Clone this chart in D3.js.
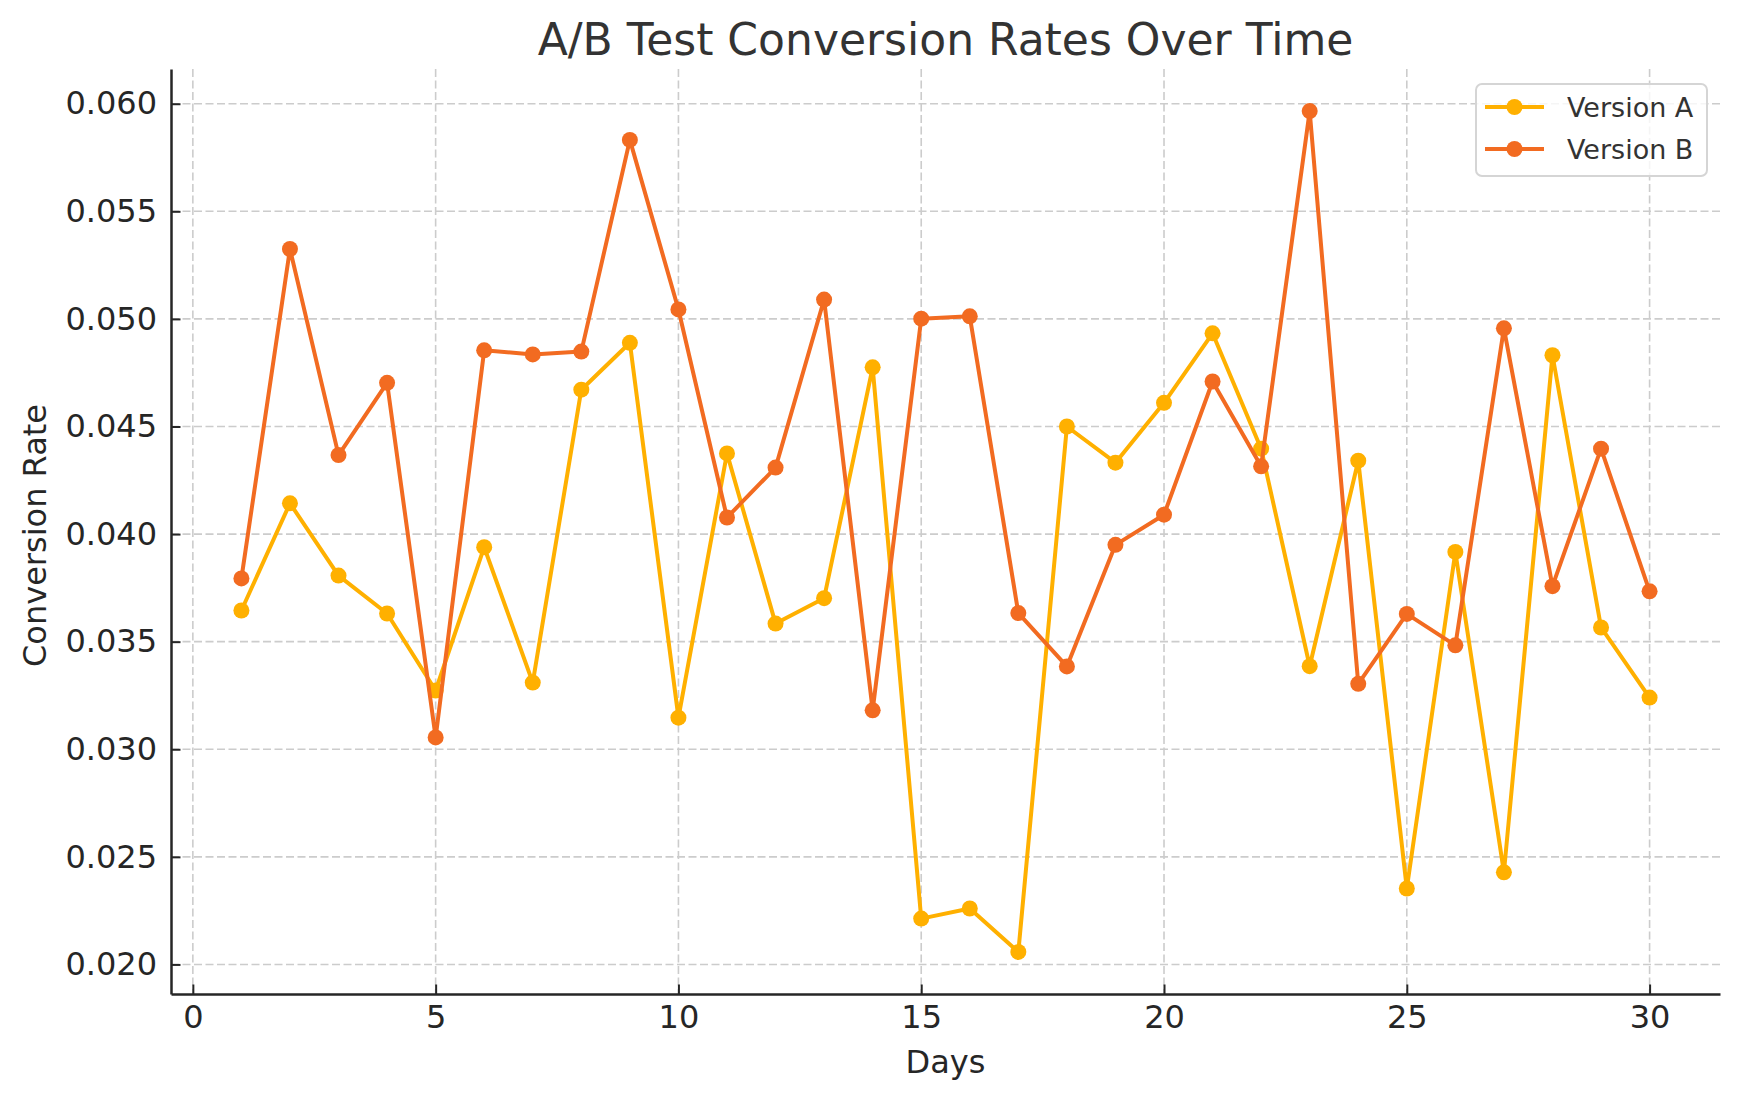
<!DOCTYPE html>
<html>
<head>
<meta charset="utf-8">
<script src="https://cdn.jsdelivr.net/npm/d3@7"></script>
<style>
  html, body { margin: 0; padding: 0; background: #fff; }
  text { font-family: "DejaVu Sans", sans-serif; }
</style>
</head>
<body>
<div id="chart-area"></div>
<script>
const days = d3.range(1, 31);

const versionA = [
    0.03645, 0.04143, 0.03807, 0.03631, 0.03273, 0.03939, 0.03310, 0.04671, 0.04889, 0.03147,
    0.04375, 0.03584, 0.03702, 0.04775, 0.02213, 0.02260, 0.02058, 0.04500, 0.04332, 0.04610,
    0.04933, 0.04397, 0.03386, 0.04341, 0.02353, 0.03917, 0.02428, 0.04831, 0.03566, 0.03240
];

const versionB = [
    0.03794, 0.05325, 0.04367, 0.04703, 0.03055, 0.04854, 0.04835, 0.04848, 0.05832, 0.05044,
    0.04077, 0.04309, 0.05090, 0.03181, 0.05001, 0.05012, 0.03633, 0.03385, 0.03950, 0.04090,
    0.04709, 0.04315, 0.05966, 0.03304, 0.03629, 0.03483, 0.04956, 0.03758, 0.04397, 0.03734
];

const seriesNames = ["Version A", "Version B"];
const seriesColors = ["#FFB000", "#F26B21"];
const xTicks = [0, 5, 10, 15, 20, 25, 30];
const yTicks = [0.020, 0.025, 0.030, 0.035, 0.040, 0.045, 0.050, 0.055, 0.060];

const WIDTH = 1739;
const HEIGHT = 1101;
const MARGINS = { top: 69, right: 19, bottom: 107, left: 171 };
const CHART_WIDTH = WIDTH - MARGINS.left - MARGINS.right;
const CHART_HEIGHT = HEIGHT - MARGINS.top - MARGINS.bottom;

const svg = d3.select('#chart-area')
    .append('svg')
    .attr('width', WIDTH)
    .attr('height', HEIGHT)
    .style('display', 'block')
    .style('background', '#fff');

const g = svg.append('g')
    .attr('transform', `translate(${MARGINS.left}, ${MARGINS.top})`);

// matplotlib-like 5% margins around the data
const allValues = versionA.concat(versionB);
const yMin = d3.min(allValues), yMax = d3.max(allValues);
const yPad = (yMax - yMin) * 0.05;
const xPad = (d3.max(days) - d3.min(days)) * 0.05;

const xScale = d3.scaleLinear()
    .domain([d3.min(days) - xPad, d3.max(days) + xPad])
    .range([0, CHART_WIDTH]);

const yScale = d3.scaleLinear()
    .domain([yMin - yPad, yMax + yPad])
    .range([CHART_HEIGHT, 0]);

// grid
const grid = g.append('g').attr('class', 'grid');
grid.selectAll('line.vgrid')
    .data(xTicks)
    .enter().append('line')
    .attr('x1', d => xScale(d)).attr('x2', d => xScale(d))
    .attr('y1', 0).attr('y2', CHART_HEIGHT);
grid.selectAll('line.hgrid')
    .data(yTicks)
    .enter().append('line')
    .attr('x1', 0).attr('x2', CHART_WIDTH)
    .attr('y1', d => yScale(d)).attr('y2', d => yScale(d));
grid.selectAll('line')
    .attr('stroke', '#cccccc')
    .attr('stroke-width', 1.6)
    .attr('stroke-dasharray', '8,3.5');

// axes, ticks pointing inward
const xAxisCall = d3.axisBottom(xScale).tickValues(xTicks).tickSize(-9.5).tickSizeOuter(0).tickPadding(11);
const yAxisCall = d3.axisLeft(yScale).tickValues(yTicks).tickSize(-9.5).tickSizeOuter(0).tickPadding(14)
    .tickFormat(d3.format('.3f'));

const xAxisGroup = g.append('g').attr('class', 'x axis')
    .attr('transform', `translate(0, ${CHART_HEIGHT})`)
    .call(xAxisCall);
const yAxisGroup = g.append('g').attr('class', 'y axis')
    .call(yAxisCall);

[xAxisGroup, yAxisGroup].forEach(ax => {
    ax.select('.domain').attr('stroke', '#262626').attr('stroke-width', 2.5);
    ax.selectAll('.tick line').attr('stroke', '#262626').attr('stroke-width', 2);
    ax.selectAll('.tick text')
        .attr('fill', '#262626')
        .style('font-size', '32px')
        .style('font-family', '"DejaVu Sans", sans-serif');
});

// lines and markers
const series = [versionA, versionB];
const line = d3.line()
    .x((d, i) => xScale(days[i]))
    .y(d => yScale(d));

series.forEach((values, s) => {
    g.append('path')
        .datum(values)
        .attr('fill', 'none')
        .attr('stroke', seriesColors[s])
        .attr('stroke-width', 4)
        .attr('stroke-linejoin', 'round')
        .attr('d', line);

    g.selectAll(`circle.s${s}`)
        .data(values)
        .enter().append('circle')
        .attr('class', `s${s}`)
        .attr('cx', (d, i) => xScale(days[i]))
        .attr('cy', d => yScale(d))
        .attr('r', 8)
        .attr('fill', seriesColors[s]);
});

// title
svg.append('text')
    .attr('x', MARGINS.left + CHART_WIDTH / 2)
    .attr('y', 55)
    .attr('text-anchor', 'middle')
    .attr('fill', '#333333')
    .style('font-size', '44px')
    .text('A/B Test Conversion Rates Over Time');

// X label
svg.append('text')
    .attr('x', MARGINS.left + CHART_WIDTH / 2)
    .attr('y', 1073)
    .attr('text-anchor', 'middle')
    .attr('fill', '#262626')
    .style('font-size', '32px')
    .text('Days');

// Y label
svg.append('text')
    .attr('transform', `translate(46, ${MARGINS.top + CHART_HEIGHT / 2 + 4}) rotate(-90)`)
    .attr('text-anchor', 'middle')
    .attr('fill', '#262626')
    .style('font-size', '32px')
    .text('Conversion Rate');

// legend
const legend = svg.append('g').attr('transform', 'translate(1476, 84)');
legend.append('rect')
    .attr('width', 231).attr('height', 92)
    .attr('rx', 6).attr('ry', 6)
    .attr('fill', 'rgba(255,255,255,0.8)')
    .attr('stroke', '#d5d5d5')
    .attr('stroke-width', 2);

seriesNames.forEach((name, s) => {
    const row = legend.append('g').attr('transform', `translate(0, ${23 + s * 42})`);
    row.append('line')
        .attr('x1', 9).attr('x2', 68)
        .attr('stroke', seriesColors[s])
        .attr('stroke-width', 4);
    row.append('circle')
        .attr('cx', 38.5).attr('r', 8)
        .attr('fill', seriesColors[s]);
    row.append('text')
        .attr('x', 91)
        .attr('dy', '0.36em')
        .attr('fill', '#333333')
        .style('font-size', '27px')
        .text(name);
});
</script>
</body>
</html>
